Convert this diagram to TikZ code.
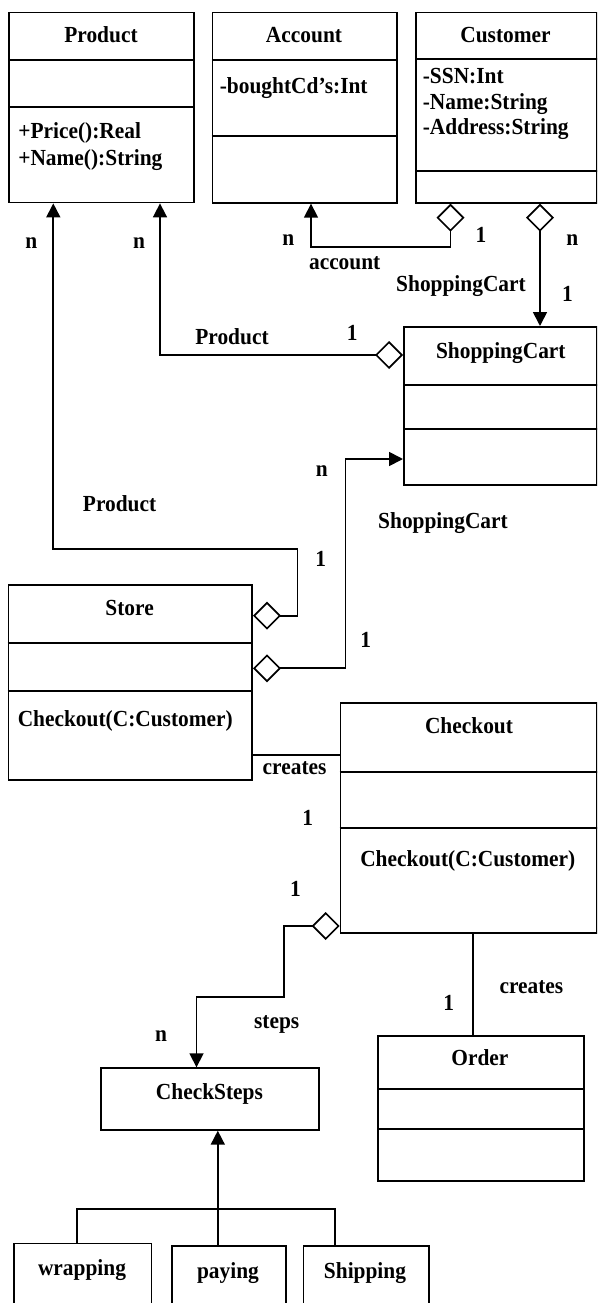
\documentclass[tikz,border=0pt]{standalone}
\usepackage{fontspec}
\setmainfont{Liberation Serif}
\newfontfamily\diagfont[FakeStretch=0.93]{Liberation Serif}
\usetikzlibrary{arrows.meta}
\begin{document}
\begin{tikzpicture}[x=1pt, y=-1pt, line width=1.7pt,
  cls/.style={draw, rectangle, anchor=north west, inner sep=0pt},
  txt/.style={anchor=base, inner sep=0pt, font=\diagfont\fontsize{23}{27}\selectfont\bfseries},
  txtl/.style={txt, anchor=base west},
  agg/.style={{Diamond[open,length=28pt,width=28pt]}-{Triangle[length=14pt,width=14pt]}},
  gen/.style={-{Triangle[length=14pt,width=14pt]}}]

% canvas
\useasboundingbox (0,0) rectangle (597,1303);
\fill[white] (0,0) rectangle (597,1303);
\clip (0,0) rectangle (597,1303);

% class boxes
\node[cls, minimum width=185pt,   minimum height=190pt]   (product)    at (8.4,11.7)   {};
\node[cls, minimum width=184.3pt, minimum height=190.3pt] (account)    at (211.7,11.7) {};
\node[cls, minimum width=181pt,   minimum height=190.3pt] (customer)   at (415,11.7)   {};
\node[cls, minimum width=193pt,   minimum height=158.3pt] (cart)       at (403,326)    {};
\node[cls, minimum width=243.7pt, minimum height=195.3pt] (store)      at (7.6,584)    {};
\node[cls, minimum width=256.3pt, minimum height=230.3pt] (checkout)   at (339.7,702)  {};
\node[cls, minimum width=206pt,   minimum height=145pt]   (order)      at (377,1035)   {};
\node[cls, minimum width=218.6pt, minimum height=61.7pt]  (checksteps) at (99.8,1067.3) {};
\node[cls, minimum width=137.2pt, minimum height=90pt]    (wrapping)   at (13.3,1242.7) {};
\node[cls, minimum width=113.8pt, minimum height=90pt]    (paying)     at (171,1245)   {};
\node[cls, minimum width=125.7pt, minimum height=90pt]    (shipping)   at (302.7,1245) {};

% compartment dividers
\foreach \n/\a/\b in {product/48.3/95, account/48.3/124, customer/47.3/159,
                      cart/59/103.3, store/58.7/106.7, checkout/69.7/125.7, order/54/94} {
  \draw ([yshift=-\a pt]\n.north west) -- ([yshift=-\a pt]\n.north east);
  \draw ([yshift=-\b pt]\n.north west) -- ([yshift=-\b pt]\n.north east);
}

% class names and members
\node[txt]  (tProduct)  at (101,42.7)   {Product};
\node[txt]  (tAccount)  at (304,42.7)   {Account};
\node[txt]  (tCustomer) at (505.5,42.7) {Customer};
\node[txtl] (mPrice)    at (17.5,138.3) {+Price():Real};
\node[txtl] (mName)     at (17.5,165)   {+Name():String};
\node[txtl] (aBought)   at (219,93.3)   {-boughtCd’s:Int};
\node[txtl] (aSSN)      at (422,84)     {-SSN:Int};
\node[txtl] (aName)     at (422,110)    {-Name:String};
\node[txtl] (aAddr)     at (422,135)    {-Address:String};
\node[txt]  (tCart)     at (500.8,358.3) {ShoppingCart};
\node[txt]  (tStore)    at (129.6,615)  {Store};
\node[txt]  (mStore)    at (125.3,726)  {Checkout(C:Customer)};
\node[txt]  (tCheckout) at (469,733.3)  {Checkout};
\node[txt]  (mCheckout) at (467.8,866)  {Checkout(C:Customer)};
\node[txt]  (tOrder)    at (479.9,1065.7) {Order};
\node[txt]  (tSteps)    at (209.4,1099) {CheckSteps};
\node[txt]  (tWrap)     at (82,1275.7)  {wrapping};
\node[txt]  (tPay)      at (228,1278.3) {paying};
\node[txt]  (tShip)     at (365,1278.3) {Shipping};

% bend points of the connectors
\coordinate (a1) at (450.5,247);
\coordinate (a2) at (311,247);
\coordinate (c1) at (540,247);
\coordinate (p2) at (160,355);
\coordinate (s1) at (297.4,615.7);
\coordinate (s2) at (297.4,548.7);
\coordinate (s3) at (53.3,548.7);
\coordinate (t1) at (345.4,668.3);
\coordinate (t2) at (345.4,459);
\coordinate (cr) at (300,755);
\coordinate (u1) at (283.7,926);
\coordinate (u2) at (283.7,996.7);
\coordinate (u3) at (196.5,996.7);
\coordinate (o1) at (473,1000);
\coordinate (g)  at (217.8,1209);
\coordinate (w1) at (77.3,1209);
\coordinate (h1) at (335.1,1209);

% associations
\draw[agg] (a1 |- customer.south) -- (a1) -- (a2) -- (a2 |- account.south);
\draw[agg] (c1 |- customer.south) -- (c1 |- cart.north);
\draw[agg] (cart.west |- p2) -- (p2) -- (p2 |- product.south);
\draw[agg] (store.east |- s1) -- (s1) -- (s2) -- (s3) -- (s3 |- product.south);
\draw[agg] (store.east |- t1) -- (t1) -- (t2) -- (t2 -| cart.west);
\draw[agg] (checkout.west |- u1) -- (u1) -- (u2) -- (u3) -- (u3 |- checksteps.north);
\draw (cr -| store.east) -- (cr -| checkout.west);
\draw (o1 |- checkout.south) -- (o1 |- order.north);

% generalization
\draw[gen] (g |- paying.north) -- (g |- checksteps.south);
\draw (w1 |- wrapping.north) -- (w1) -- (h1) -- (h1 |- shipping.north);

% multiplicities and role names
\node[txt] (m1)  at (31.2,248.3)  {n};
\node[txt] (m2)  at (139,248.3)   {n};
\node[txt] (m3)  at (288.3,245)   {n};
\node[txt] (m4)  at (481,242)     {1};
\node[txt] (r1)  at (344.7,269)   {account};
\node[txt] (m5)  at (572.4,245)   {n};
\node[txt] (r2)  at (461,291.7)   {ShoppingCart};
\node[txt] (m6)  at (567.4,301)   {1};
\node[txt] (r3)  at (232,344)     {Product};
\node[txt] (m7)  at (352.2,340.7) {1};
\node[txt] (m8)  at (321.8,476)   {n};
\node[txt] (r4)  at (443,528.3)   {ShoppingCart};
\node[txt] (r5)  at (119.6,511)   {Product};
\node[txt] (m9)  at (320.6,566)   {1};
\node[txt] (m10) at (365.6,647.3) {1};
\node[txt] (r6)  at (294.6,774)   {creates};
\node[txt] (m11) at (307.7,825)   {1};
\node[txt] (m12) at (295.5,896)   {1};
\node[txt] (r7)  at (531.4,993.3) {creates};
\node[txt] (m13) at (448.6,1010)  {1};
\node[txt] (r8)  at (276.7,1028.3) {steps};
\node[txt] (m14) at (161,1041.7)  {n};
\end{tikzpicture}
\end{document}
